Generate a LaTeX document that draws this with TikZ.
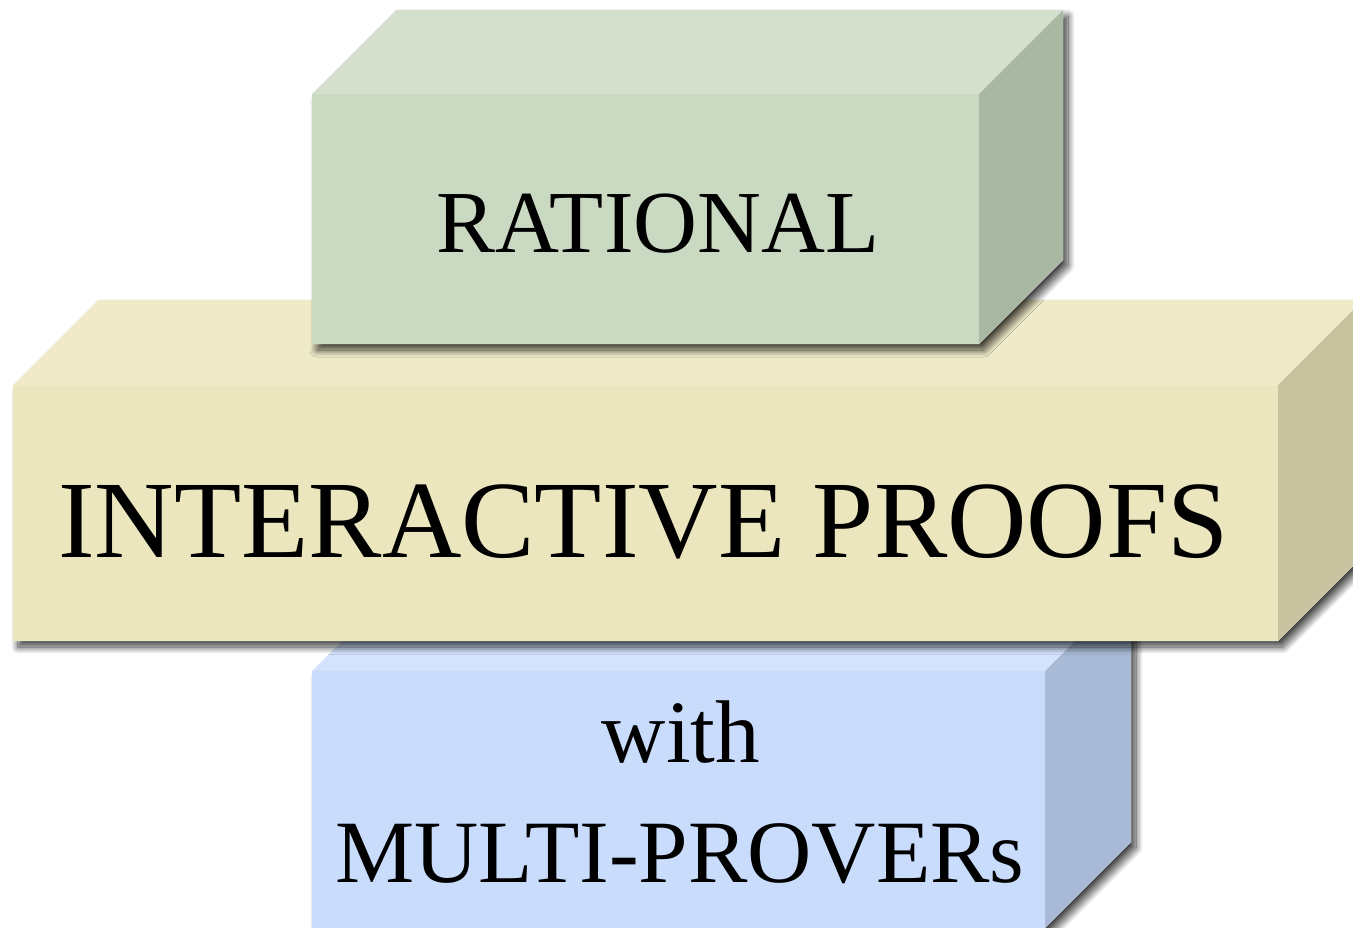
\documentclass[tikz,border=0pt]{standalone}
\usepackage{fontspec}
\setmainfont{Liberation Serif}
\usetikzlibrary{shadows.blur}

\definecolor{gfront}{HTML}{C9D9C2}
\definecolor{gtop}{HTML}{D4DFCE}
\definecolor{gside}{HTML}{A8B8A2}
\definecolor{yfront}{HTML}{ECE6BE}
\definecolor{ytop}{HTML}{EFEAC8}
\definecolor{yside}{HTML}{C8C39E}
\definecolor{bfront}{HTML}{C9DCFB}
\definecolor{btop}{HTML}{D4E2FC}
\definecolor{bside}{HTML}{A9BAD6}

\tikzset{
  boxshadow/.style={fill=white, blur shadow={shadow xshift=5pt, shadow yshift=-6pt,
      shadow blur radius=7pt, shadow blur steps=14, shadow opacity=75}},
  boxlabel/.style={anchor=base, inner sep=0pt, text=black},
}

% \slab{x0}{y0}{x1}{y1}{depth}{front}{top}{side}
% front face from (x0,y0) to (x1,y1); the box recedes by (depth,-depth)
\newcommand{\slab}[8]{%
  \path[boxshadow] (#1,#4) -- (#1,#2) -- ({#1+#5},{#2-#5}) -- ({#3+#5},{#2-#5})
        -- ({#3+#5},{#4-#5}) -- (#3,#4) -- cycle;
  \fill[#6] (#1,#2) rectangle (#3,#4);
  \fill[#7] (#1,#2) -- ({#1+#5},{#2-#5}) -- ({#3+#5},{#2-#5}) -- (#3,#2) -- cycle;
  \fill[#8] (#3,#2) -- ({#3+#5},{#2-#5}) -- ({#3+#5},{#4-#5}) -- (#3,#4) -- cycle;
}

\begin{document}
\begin{tikzpicture}[x=1pt,y=-1pt]
\useasboundingbox (0,0) rectangle (1353,928);

% bottom slab (blue)
\slab{312}{671}{1045}{928}{86}{bfront}{btop}{bside}
% middle slab (yellow)
\slab{13}{385}{1278}{641}{85}{yfront}{ytop}{yside}
% top slab (green)
\slab{312}{94}{979}{344}{84}{gfront}{gtop}{gside}

\node[boxlabel, font=\fontsize{88.5}{90}\selectfont] (rational) at (658,253) {RATIONAL};
\node[boxlabel, font=\fontsize{110}{116}\selectfont] (ip) at (643.5,557) {INTERACTIVE PROOFS};
\node[boxlabel, font=\fontsize{89}{92}\selectfont] (with) at (681,762) {with};
\node[boxlabel, font=\fontsize{89}{92}\selectfont] (mp) at (680,882) {MULTI-PROVERs};
\end{tikzpicture}
\end{document}
